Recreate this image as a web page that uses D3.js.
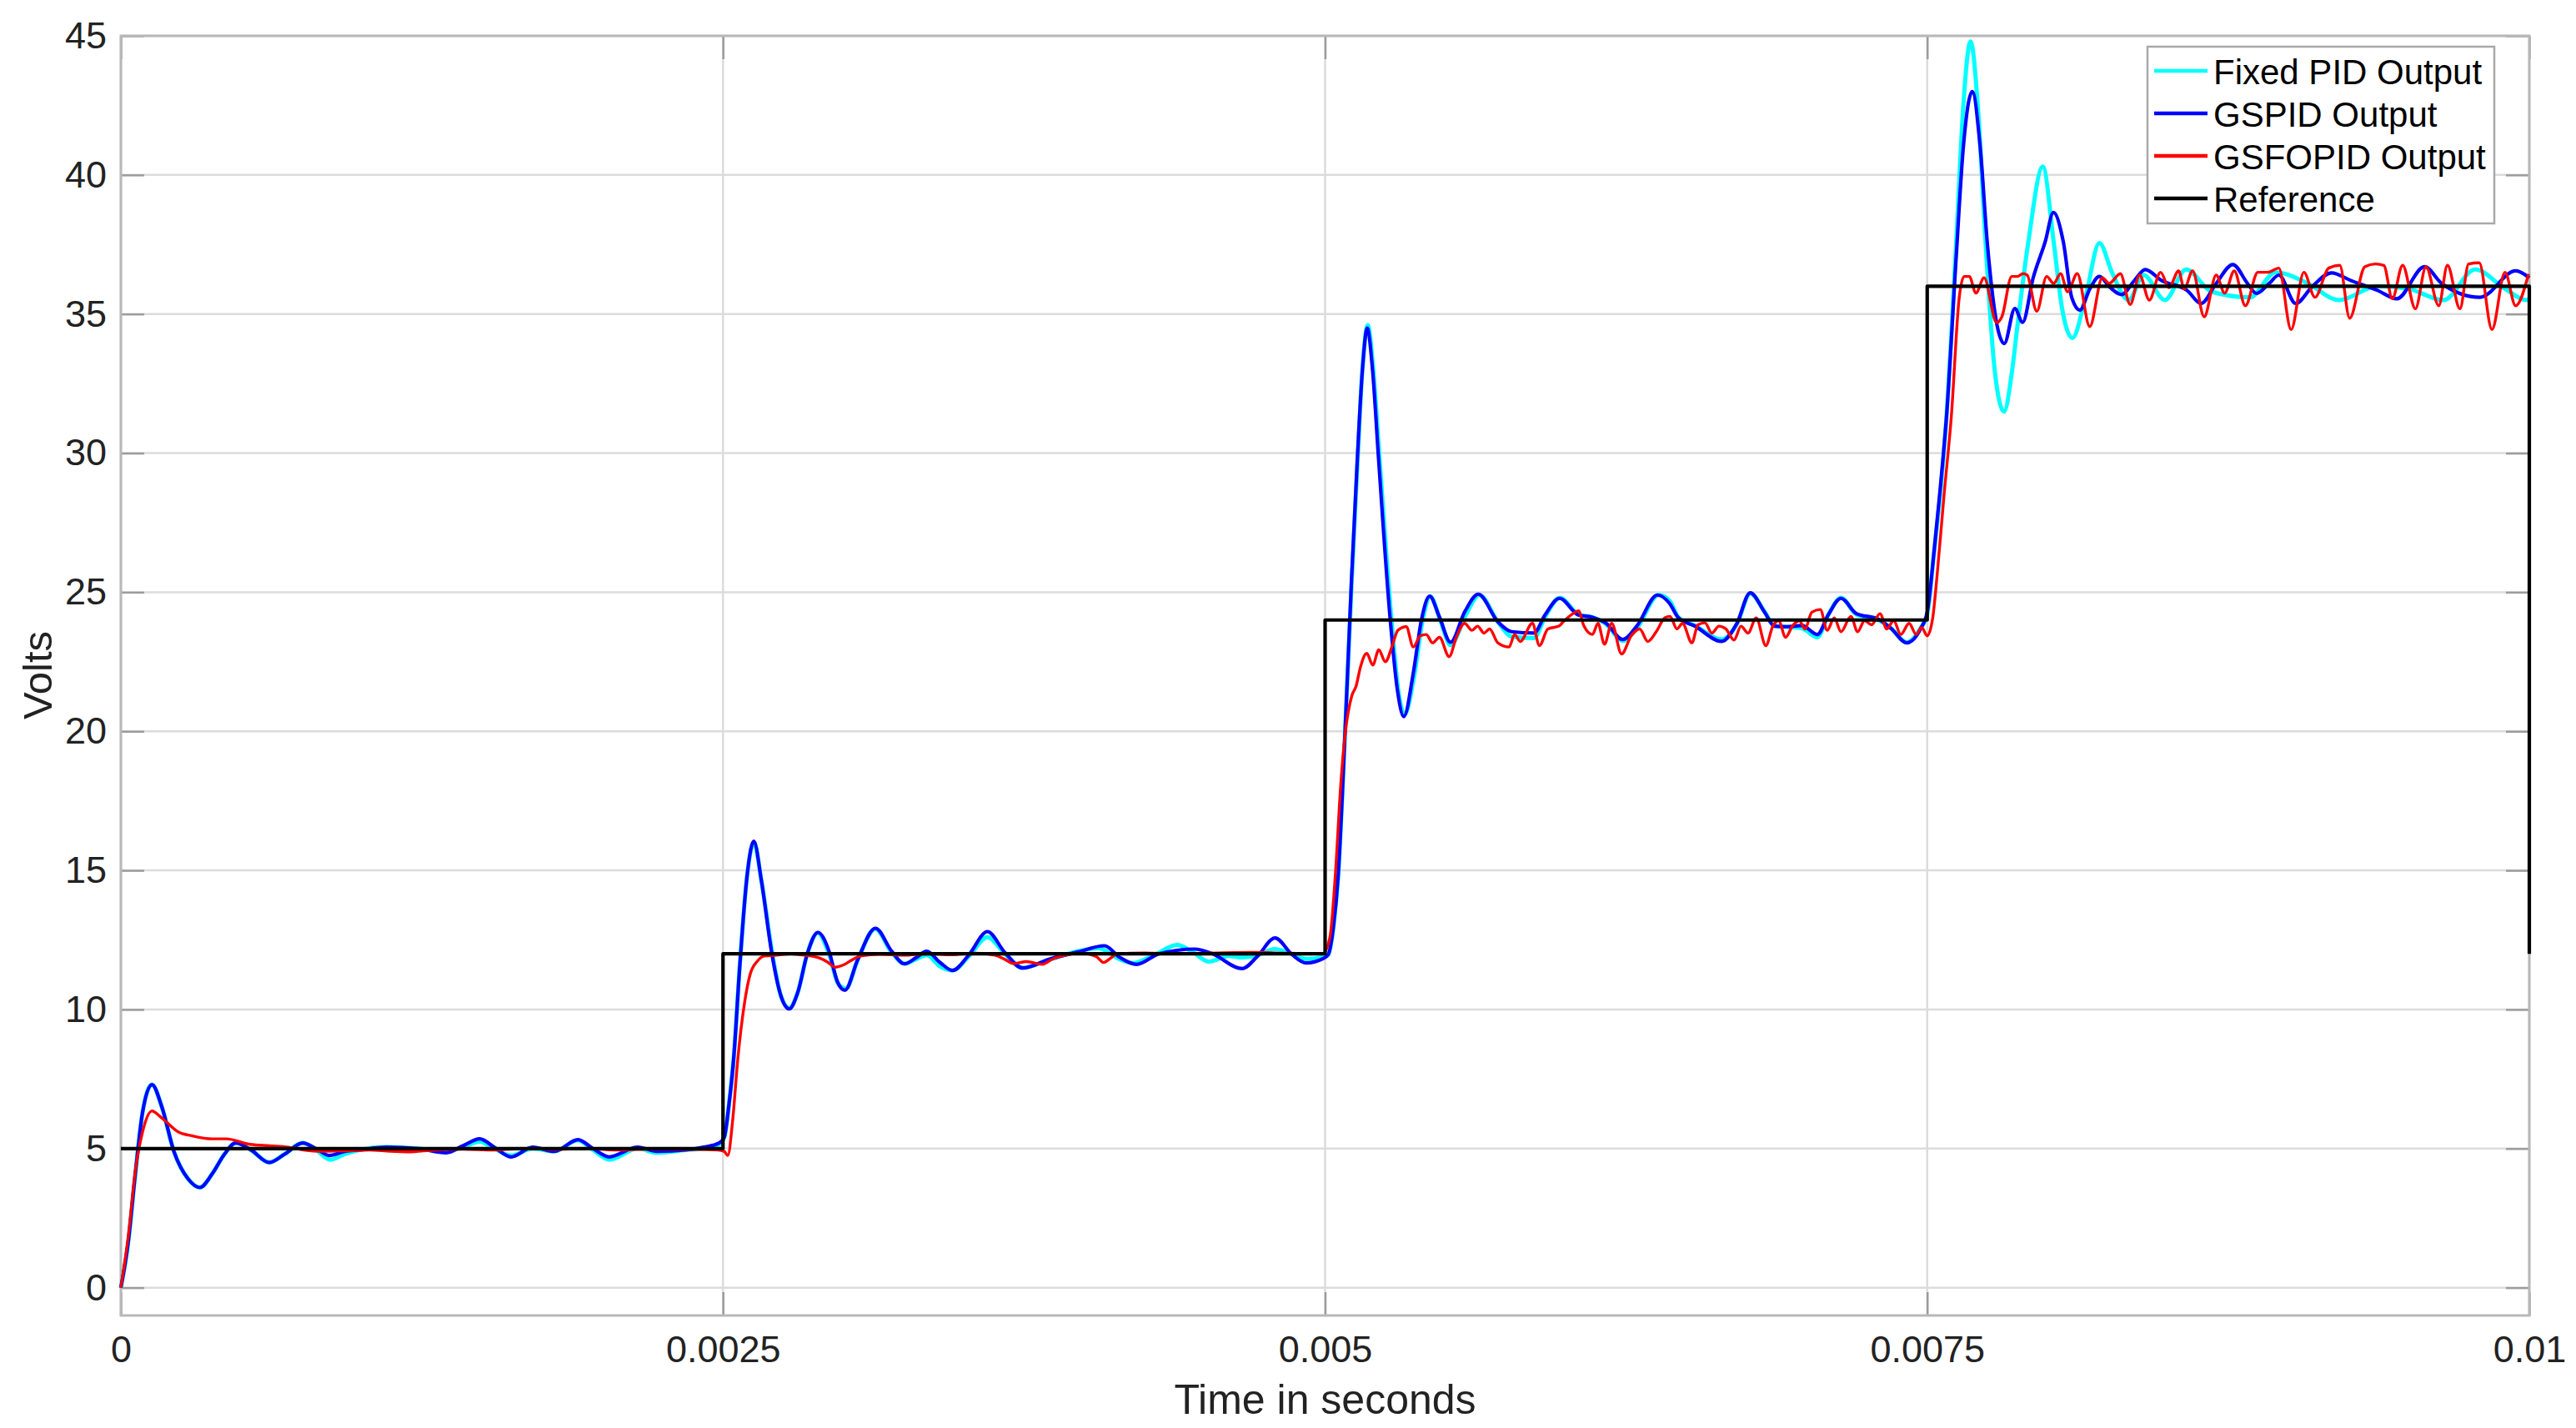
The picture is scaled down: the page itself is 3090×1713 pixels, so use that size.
<!DOCTYPE html>
<html><head><meta charset="utf-8">
<script src="https://cdn.jsdelivr.net/npm/d3@7"></script>
<style>
body{margin:0;background:#fff}
text{font-family:"Liberation Sans",Arial,Helvetica,sans-serif}
</style>
</head><body>
<svg id="chart" width="3090" height="1713"></svg>
<script>
// ---------- data (time in ms, value in volts) ----------
const xTickValues = [0, 0.0025, 0.005, 0.0075, 0.01];
const xTickLabels = ["0", "0.0025", "0.005", "0.0075", "0.01"];
const yTickValues = [0, 5, 10, 15, 20, 25, 30, 35, 40, 45];
const seriesNames = ["Fixed PID Output", "GSPID Output", "GSFOPID Output", "Reference"];
const seriesColors = ["#00ffff", "#0000ff", "#ff0000", "#000000"];
const xLabel = "Time in seconds";
const yLabel = "Volts";

const fixedPid = [[0,0],[0.03,1.6],[0.06,4.1],[0.09,6.3],[0.129,7.3],[0.17,6.5],[0.22,4.9],[0.28,3.9],[0.328,3.6],[0.38,4.1],[0.43,4.8],[0.477,5.2],[0.54,4.95],[0.616,4.5],[0.68,4.8],[0.755,5.2],[0.81,4.95],[0.87,4.6],[0.93,4.8],[0.99,4.95],[1.103,5.05],[1.232,5.0],[1.351,4.9],[1.42,5.05],[1.49,5.25],[1.55,5.0],[1.62,4.75],[1.71,5.0],[1.8,4.9],[1.898,5.3],[1.96,4.95],[2.03,4.6],[2.146,5.0],[2.226,4.85],[2.345,4.95],[2.42,5.0],[2.484,5.15],[2.505,5.4],[2.525,6.6],[2.544,8.2],[2.57,11.6],[2.6,14.8],[2.628,16.0],[2.66,14.6],[2.705,12.0],[2.74,10.5],[2.775,10.05],[2.81,10.6],[2.85,12.0],[2.894,12.75],[2.94,12.0],[2.98,10.9],[3.01,10.75],[3.06,11.8],[3.133,12.9],[3.2,12.05],[3.254,11.65],[3.3,11.8],[3.346,11.95],[3.4,11.55],[3.453,11.4],[3.52,11.9],[3.598,12.6],[3.67,12.0],[3.744,11.5],[3.859,11.8],[3.975,12.1],[4.06,12.2],[4.148,11.8],[4.2,11.67],[4.3,12.0],[4.385,12.32],[4.45,12.07],[4.517,11.72],[4.6,11.92],[4.656,11.87],[4.72,11.95],[4.79,12.17],[4.86,12.0],[4.921,11.82],[4.99,11.87],[5.013,11.97],[5.035,13.0],[5.054,14.77],[5.083,20.0],[5.11,25.3],[5.134,29.6],[5.155,33.0],[5.177,34.6],[5.2,33.0],[5.226,29.8],[5.275,24.06],[5.305,21.4],[5.33,20.6],[5.37,22.0],[5.405,24.0],[5.437,24.85],[5.478,24.0],[5.521,23.1],[5.585,24.2],[5.64,24.9],[5.72,23.9],[5.775,23.4],[5.867,23.35],[5.913,24.1],[5.975,24.8],[6.052,24.2],[6.11,24.1],[6.167,23.85],[6.236,23.25],[6.294,23.7],[6.385,24.9],[6.43,24.7],[6.467,24.1],[6.536,23.8],[6.646,23.3],[6.71,23.85],[6.765,24.95],[6.825,24.3],[6.865,23.8],[6.917,23.75],[6.98,23.7],[7.044,23.38],[7.09,24.2],[7.142,24.8],[7.206,24.2],[7.298,24.0],[7.35,23.7],[7.415,23.2],[7.472,23.7],[7.5,24.2],[7.529,26.5],[7.555,28.6],[7.58,31.3],[7.62,37.5],[7.65,42.5],[7.68,44.8],[7.71,42.5],[7.742,37.6],[7.78,33.0],[7.819,31.49],[7.85,32.8],[7.875,34.6],[7.92,37.6],[7.98,40.3],[8.025,37.6],[8.06,35.2],[8.103,34.14],[8.157,35.6],[8.215,37.55],[8.267,36.5],[8.336,35.5],[8.399,36.4],[8.487,35.5],[8.575,36.6],[8.681,35.8],[8.84,35.6],[8.946,36.5],[9.08,36.1],[9.21,35.5],[9.37,36.0],[9.5,35.9],[9.644,35.5],[9.775,36.6],[9.9,35.9],[9.988,35.5],[10,35.55]];

const gsPid = [[0,0],[0.03,1.6],[0.06,4.1],[0.09,6.3],[0.129,7.3],[0.17,6.5],[0.22,4.9],[0.28,3.9],[0.328,3.6],[0.38,4.1],[0.43,4.8],[0.477,5.2],[0.54,4.95],[0.616,4.5],[0.68,4.8],[0.755,5.2],[0.81,5.0],[0.865,4.75],[0.93,4.9],[0.99,4.95],[1.103,5.05],[1.232,5.0],[1.351,4.85],[1.42,5.1],[1.49,5.35],[1.55,5.05],[1.62,4.7],[1.71,5.05],[1.8,4.9],[1.898,5.32],[1.96,5.0],[2.027,4.7],[2.146,5.05],[2.226,4.9],[2.345,4.95],[2.42,5.05],[2.484,5.2],[2.505,5.4],[2.525,6.6],[2.544,8.2],[2.57,11.6],[2.6,14.8],[2.628,16.05],[2.66,14.6],[2.703,12.0],[2.74,10.5],[2.775,10.02],[2.81,10.6],[2.85,12.0],[2.894,12.77],[2.94,12.1],[2.975,11.0],[3.006,10.69],[3.06,11.8],[3.133,12.92],[3.2,12.1],[3.254,11.64],[3.3,11.85],[3.346,12.09],[3.4,11.7],[3.453,11.4],[3.52,11.95],[3.598,12.8],[3.67,12.05],[3.744,11.49],[3.859,11.82],[3.975,12.07],[4.084,12.29],[4.148,11.87],[4.217,11.62],[4.31,12.0],[4.459,12.17],[4.528,12.02],[4.656,11.47],[4.72,11.92],[4.792,12.57],[4.863,11.97],[4.921,11.67],[4.99,11.82],[5.013,11.97],[5.035,13.0],[5.054,14.77],[5.083,20.0],[5.11,25.5],[5.134,29.8],[5.155,33.0],[5.175,34.49],[5.197,33.0],[5.222,29.8],[5.27,24.06],[5.3,21.5],[5.327,20.53],[5.366,22.08],[5.4,24.0],[5.434,24.86],[5.475,24.1],[5.521,23.2],[5.58,24.3],[5.636,24.93],[5.717,23.94],[5.775,23.58],[5.867,23.53],[5.913,24.18],[5.973,24.78],[6.052,24.18],[6.11,24.1],[6.167,23.88],[6.236,23.3],[6.294,23.78],[6.38,24.9],[6.43,24.6],[6.467,24.08],[6.536,23.78],[6.646,23.23],[6.71,23.88],[6.765,24.98],[6.825,24.28],[6.865,23.78],[6.917,23.76],[6.98,23.8],[7.044,23.48],[7.09,24.2],[7.142,24.78],[7.206,24.23],[7.298,24.03],[7.35,23.7],[7.415,23.18],[7.472,23.68],[7.5,24.28],[7.529,26.5],[7.555,28.8],[7.58,31.3],[7.62,37.0],[7.65,41.0],[7.687,43.0],[7.72,41.0],[7.75,37.5],[7.79,34.6],[7.82,33.94],[7.864,35.2],[7.896,34.7],[7.94,36.3],[7.99,37.6],[8.024,38.65],[8.065,37.6],[8.1,35.6],[8.134,35.14],[8.175,35.9],[8.215,36.35],[8.26,35.95],[8.307,35.7],[8.36,36.2],[8.405,36.6],[8.474,36.2],[8.579,35.85],[8.637,35.38],[8.7,36.1],[8.769,36.78],[8.83,36.1],[8.867,35.74],[8.92,36.1],[8.96,36.4],[9.03,35.38],[9.1,36.0],[9.179,36.48],[9.26,36.2],[9.37,35.85],[9.45,35.55],[9.565,36.7],[9.636,36.1],[9.795,35.6],[9.944,36.55],[10,36.3]];

const gsfoPid = [[0,0],[0.03,1.8],[0.06,4.2],[0.09,5.6],[0.129,6.35],[0.17,6.1],[0.238,5.6],[0.3,5.45],[0.378,5.35],[0.437,5.35],[0.537,5.15],[0.62,5.1],[0.696,5.05],[0.76,4.95],[0.835,4.9],[0.93,4.92],[1.033,4.95],[1.12,4.9],[1.192,4.88],[1.3,4.95],[1.42,4.98],[1.55,4.95],[1.68,5.0],[1.8,4.97],[1.92,5.0],[2.05,4.95],[2.2,4.98],[2.35,4.97],[2.48,4.95],[2.505,4.9],[2.52,4.75],[2.54,6.0],[2.561,8.17],[2.59,10.27],[2.613,11.27],[2.642,11.73],[2.671,11.92],[2.72,11.95],[2.78,12.0],[2.84,11.95],[2.9,11.85],[2.935,11.7],[2.965,11.52],[3.0,11.6],[3.03,11.75],[3.07,11.92],[3.15,11.98],[3.25,11.95],[3.35,12.0],[3.45,11.97],[3.55,12.02],[3.63,11.95],[3.67,11.8],[3.709,11.65],[3.76,11.72],[3.825,11.62],[3.87,11.82],[3.92,11.95],[3.99,12.02],[4.05,11.9],[4.08,11.69],[4.11,11.85],[4.137,12.0],[4.25,12.03],[4.4,12.0],[4.55,12.03],[4.7,12.05],[4.85,12.02],[4.99,12.0],[5.02,12.6],[5.042,14.77],[5.065,18.08],[5.083,19.88],[5.111,21.28],[5.129,21.63],[5.146,22.28],[5.173,22.8],[5.198,22.38],[5.223,22.93],[5.25,22.5],[5.279,23.08],[5.302,23.63],[5.337,23.76],[5.366,23.03],[5.395,23.43],[5.42,23.48],[5.446,23.18],[5.475,23.38],[5.515,22.68],[5.545,23.38],[5.579,23.88],[5.61,23.63],[5.633,23.78],[5.66,23.53],[5.683,23.68],[5.717,23.18],[5.764,23.03],[5.787,23.48],[5.81,23.23],[5.861,23.88],[5.89,23.08],[5.925,23.68],[5.971,23.78],[5.988,23.93],[6.029,24.23],[6.052,24.33],[6.075,23.78],[6.11,23.48],[6.133,23.88],[6.16,23.13],[6.19,23.88],[6.231,22.78],[6.271,23.43],[6.306,23.68],[6.34,23.23],[6.375,23.58],[6.411,24.08],[6.432,24.13],[6.461,23.68],[6.484,23.88],[6.523,23.18],[6.548,23.83],[6.577,23.9],[6.606,23.53],[6.635,23.78],[6.664,23.68],[6.698,23.28],[6.727,23.78],[6.756,23.53],[6.79,24.08],[6.83,23.08],[6.859,23.78],[6.883,23.98],[6.912,23.38],[6.94,23.78],[6.969,23.98],[6.992,23.68],[7.021,24.28],[7.056,24.38],[7.085,23.63],[7.114,24.08],[7.142,23.58],[7.183,24.13],[7.211,23.58],[7.24,23.98],[7.269,23.83],[7.304,24.23],[7.332,23.68],[7.361,23.98],[7.39,23.48],[7.425,23.88],[7.454,23.48],[7.477,23.73],[7.5,23.43],[7.523,24.08],[7.54,25.5],[7.57,28.5],[7.6,31.3],[7.633,35.6],[7.653,36.35],[7.675,36.35],[7.702,35.75],[7.736,36.3],[7.788,34.69],[7.81,34.9],[7.851,36.35],[7.875,36.35],[7.898,36.45],[7.915,36.4],[7.955,35.1],[7.996,36.35],[8.025,36.1],[8.054,36.45],[8.083,35.8],[8.123,36.45],[8.175,34.55],[8.227,36.3],[8.256,36.1],[8.302,36.45],[8.343,35.34],[8.382,36.4],[8.422,35.5],[8.469,36.5],[8.504,35.95],[8.544,36.55],[8.567,35.9],[8.602,36.55],[8.65,34.9],[8.7,36.4],[8.735,35.75],[8.775,36.55],[8.821,35.3],[8.873,36.5],[8.913,36.5],[8.96,36.65],[9.011,34.44],[9.064,36.5],[9.11,35.6],[9.167,36.65],[9.213,36.75],[9.254,34.85],[9.317,36.7],[9.361,36.8],[9.396,36.75],[9.431,35.55],[9.474,36.75],[9.527,35.19],[9.571,36.7],[9.624,35.3],[9.66,36.75],[9.712,35.19],[9.748,36.8],[9.792,36.84],[9.845,34.44],[9.899,36.5],[9.943,35.3],[9.997,36.44]];

const reference = [[0,5],[2.5,12],[5,24],[7.5,36],[10,12]];

// ---------- layout ----------
const svg = d3.select("#chart");
const plotL = 145, plotR = 3034, plotT = 43, plotB = 1578;
const x = d3.scaleLinear().domain([0, 0.01]).range([plotL, plotR]);
const y = d3.scaleLinear().domain([-1, 45]).range([plotB, plotT]);

svg.append("rect").attr("width", 3090).attr("height", 1713).attr("fill", "#fff");

// grid
const grid = svg.append("g").attr("stroke", "#dcdcdc").attr("stroke-width", 2.5);
grid.selectAll("line.gy").data(yTickValues).join("line")
  .attr("x1", plotL).attr("x2", plotR).attr("y1", d => y(d)).attr("y2", d => y(d));
grid.selectAll("line.gx").data(xTickValues).join("line")
  .attr("y1", plotT).attr("y2", plotB).attr("x1", d => x(d)).attr("x2", d => x(d));

// axes (inward ticks)
const tickLen = 28;
function styleAxis(g, showLabels) {
  g.select(".domain").remove();
  g.selectAll(".tick line").attr("stroke", "#9c9c9c").attr("stroke-width", 2.5);
  g.selectAll(".tick text").attr("fill", "#222").attr("font-size", 45)
    .attr("font-family", "'Liberation Sans', Arial, sans-serif");
  if (!showLabels) g.selectAll(".tick text").remove();
}
svg.append("g").attr("transform", `translate(0,${plotB})`)
  .call(d3.axisBottom(x).tickValues(xTickValues).tickFormat((d, i) => xTickLabels[i]).tickSize(-tickLen).tickPadding(24))
  .call(g => styleAxis(g, true));
svg.append("g").attr("transform", `translate(0,${plotT})`)
  .call(d3.axisTop(x).tickValues(xTickValues).tickSize(-tickLen))
  .call(g => styleAxis(g, false));
svg.append("g").attr("transform", `translate(${plotL},0)`)
  .call(d3.axisLeft(y).tickValues(yTickValues).tickFormat(d3.format("d")).tickSize(-tickLen).tickPadding(17))
  .call(g => styleAxis(g, true));
svg.append("g").attr("transform", `translate(${plotR},0)`)
  .call(d3.axisRight(y).tickValues(yTickValues).tickSize(-tickLen))
  .call(g => styleAxis(g, false));

// box
svg.append("rect").attr("x", plotL).attr("y", plotT)
  .attr("width", plotR - plotL).attr("height", plotB - plotT)
  .attr("fill", "none").attr("stroke", "#b8b8b8").attr("stroke-width", 3);

// series
const line = d3.line().x(d => x(d[0] / 1000)).y(d => y(d[1])).curve(d3.curveMonotoneX);
const stepLine = d3.line().x(d => x(d[0] / 1000)).y(d => y(d[1])).curve(d3.curveStepAfter);
const series = [
  {data: fixedPid, gen: line, w: 5},
  {data: gsPid, gen: line, w: 4.2},
  {data: gsfoPid, gen: line, w: 3.4},
  {data: reference, gen: stepLine, w: 4.2}
];
series.forEach((s, i) => {
  svg.append("path").attr("d", s.gen(s.data)).attr("fill", "none")
    .attr("stroke", seriesColors[i]).attr("stroke-width", s.w)
    .attr("stroke-linejoin", "round").attr("stroke-linecap", "butt");
});

// axis labels
svg.append("text").attr("x", (plotL + plotR) / 2).attr("y", 1696)
  .attr("text-anchor", "middle").attr("font-size", 50).attr("fill", "#222").text(xLabel);
svg.append("text").attr("transform", "translate(62,810) rotate(-90)")
  .attr("text-anchor", "middle").attr("font-size", 49).attr("fill", "#222").text(yLabel);

// legend
const lg = svg.append("g");
lg.append("rect").attr("x", 2576).attr("y", 56).attr("width", 416).attr("height", 212)
  .attr("fill", "#fff").attr("stroke", "#a9a9a9").attr("stroke-width", 2.5);
const rowY = [85, 136, 187, 238];
seriesNames.forEach((name, i) => {
  lg.append("line").attr("x1", 2584).attr("x2", 2648).attr("y1", rowY[i]).attr("y2", rowY[i])
    .attr("stroke", seriesColors[i]).attr("stroke-width", 4.5);
  lg.append("text").attr("x", 2655).attr("y", rowY[i] + 16).attr("font-size", 42)
    .attr("fill", "#000").text(name);
});
</script>
</body></html>
